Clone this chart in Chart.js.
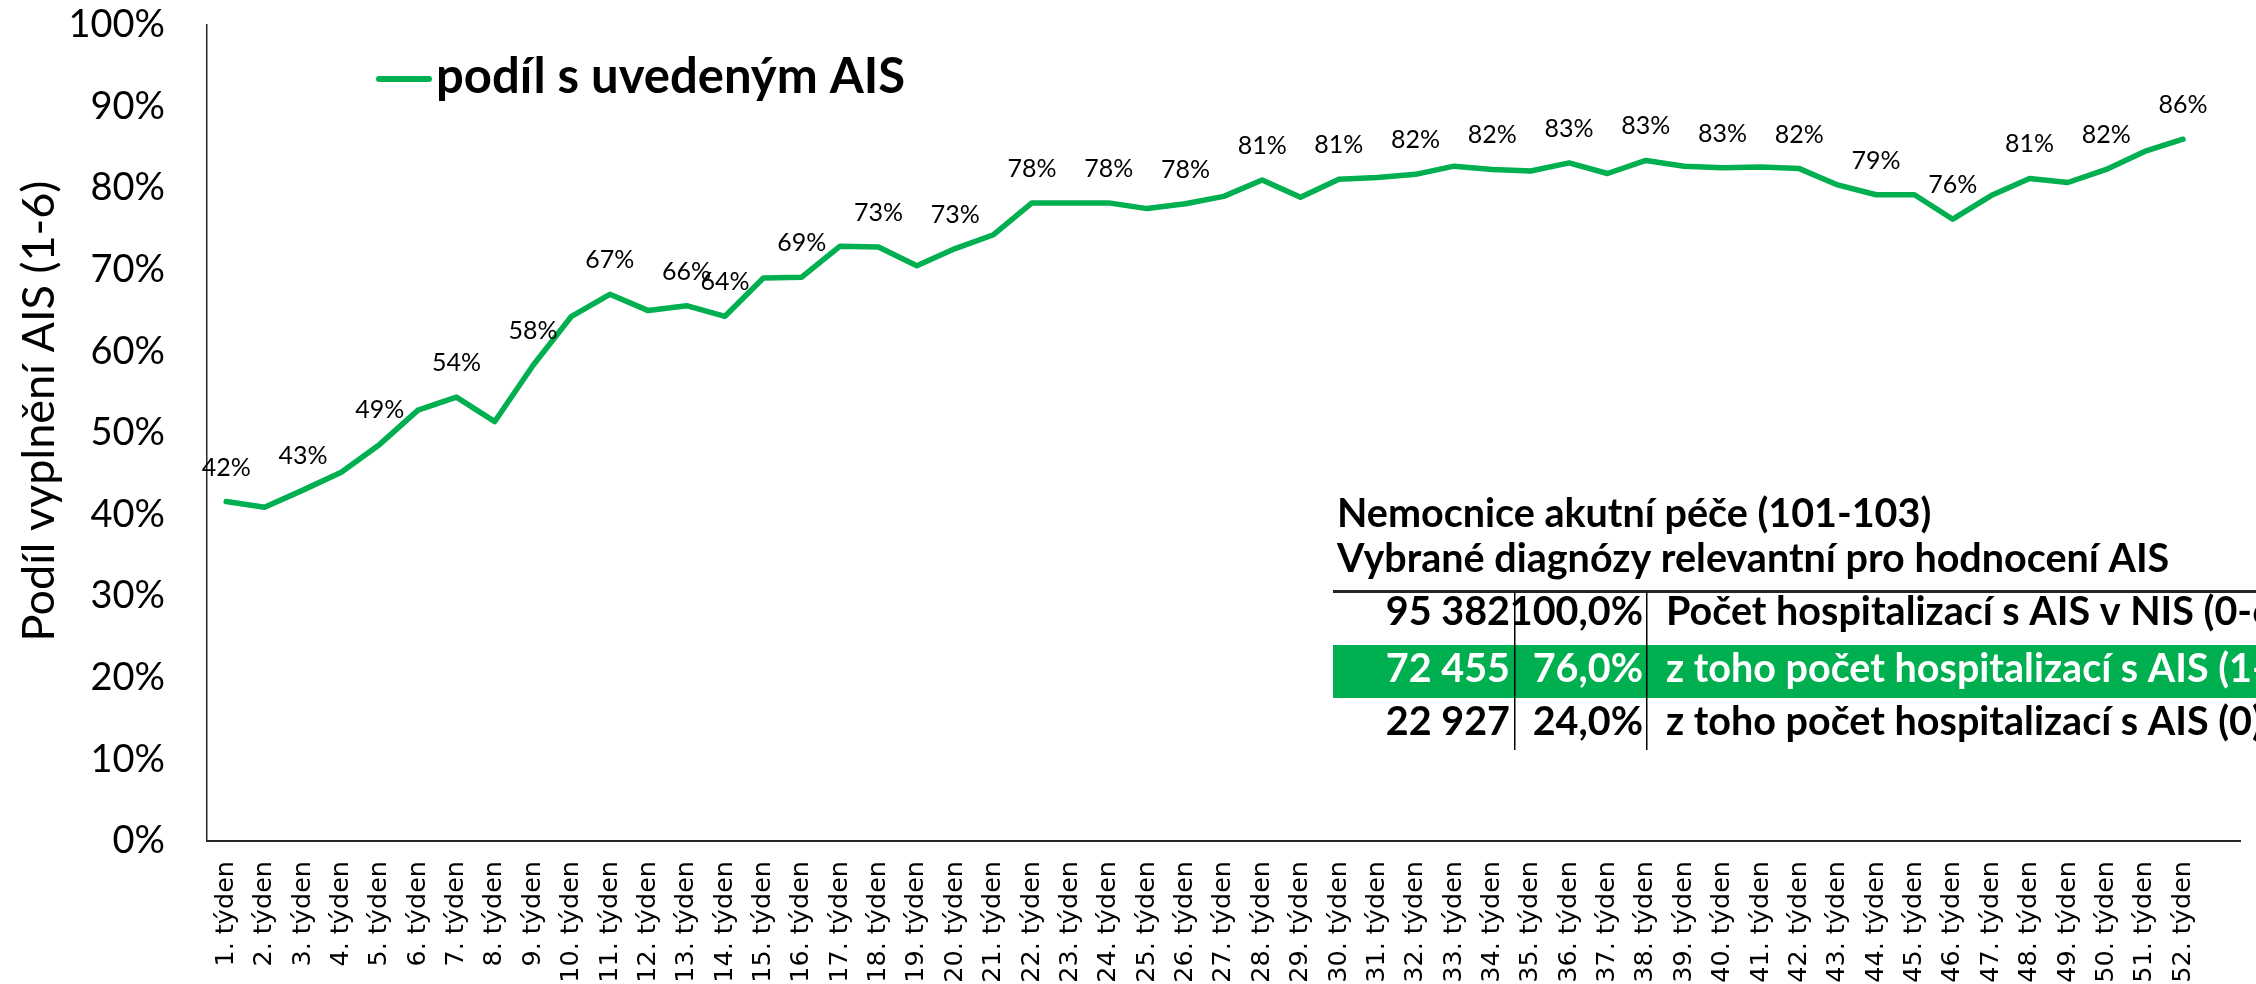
<!DOCTYPE html>
<html>
<head>
<meta charset="utf-8">
<script src="https://cdn.jsdelivr.net/npm/chart.js@4.4.1/dist/chart.umd.min.js"></script>
<style>
  html, body { margin: 0; padding: 0; background: #fff; overflow: hidden; width: 2256px; height: 984px; }
  #wrap { position: absolute; left: 0; top: 0; width: 2272px; height: 984px; }
</style>
</head>
<body>
<div id="wrap"><canvas id="chart" width="2272" height="984"></canvas></div>
<script>
// weekly share of hospitalisations with AIS filled in (1-6), in %
const weeks = [
  '1. týden', '2. týden', '3. týden', '4. týden', '5. týden', '6. týden', '7. týden', '8. týden',
  '9. týden', '10. týden', '11. týden', '12. týden', '13. týden', '14. týden', '15. týden', '16. týden',
  '17. týden', '18. týden', '19. týden', '20. týden', '21. týden', '22. týden', '23. týden', '24. týden',
  '25. týden', '26. týden', '27. týden', '28. týden', '29. týden', '30. týden', '31. týden', '32. týden',
  '33. týden', '34. týden', '35. týden', '36. týden', '37. týden', '38. týden', '39. týden', '40. týden',
  '41. týden', '42. týden', '43. týden', '44. týden', '45. týden', '46. týden', '47. týden', '48. týden',
  '49. týden', '50. týden', '51. týden', '52. týden'
]
const share = [
  41.6, 40.9, 43.0, 45.2, 48.6, 52.8, 54.4, 51.4, 58.3, 64.3,
  67.0, 65.0, 65.6, 64.3, 69.0, 69.1, 72.9, 72.8, 70.5, 72.6,
  74.3, 78.2, 78.2, 78.2, 77.5, 78.1, 79.0, 81.0, 78.9, 81.1,
  81.3, 81.7, 82.7, 82.3, 82.1, 83.1, 81.8, 83.4, 82.7, 82.5,
  82.6, 82.4, 80.4, 79.2, 79.2, 76.2, 79.1, 81.2, 80.7, 82.3,
  84.5, 86.0
]
// weeks (1-based) that carry a value label in the original
const labeledWeeks = [1, 3, 5, 7, 9, 11, 13, 14, 16, 18, 20, 22, 24, 26, 28, 30, 32, 34,
  36, 38, 40, 42, 44, 46, 48, 50, 52]

const seriesName = 'podíl s uvedeným AIS'
const yTitle = 'Podíl vyplnění AIS (1-6)'

// summary table
const tableTitle = ['Nemocnice akutní péče (101-103)', 'Vybrané diagnózy relevantní pro hodnocení AIS']
const tableCounts = [95382, 72455, 22927]
const tableShares = [100.0, 76.0, 24.0]
const tableRows = [
  'Počet hospitalizací s AIS v NIS (0-6)',
  'z toho počet hospitalizací s AIS (1-6)',
  'z toho počet hospitalizací s AIS (0)'
]

const green = '#00B050'

const fmtCount = n => String(n).replace(/\B(?=(\d{3})+(?!\d))/g, ' ')
const fmtShare = n => n.toFixed(1).replace('.', ',') + '%'

// value labels above the line
const valueLabels = {
  id: 'valueLabels',
  afterDatasetsDraw(chart) {
    const ctx = chart.ctx
    const meta = chart.getDatasetMeta(0)
    ctx.save()
    ctx.font = '25px Lato'
    ctx.fillStyle = '#000'
    ctx.textAlign = 'center'
    ctx.textBaseline = 'alphabetic'
    labeledWeeks.forEach(w => {
      const p = meta.data[w - 1]
      ctx.fillText(Math.round(share[w - 1]) + '%', p.x, p.y - 26)
    })
    ctx.restore()
  }
}

// axis title, legend and the table in the corner
const extras = {
  id: 'extras',
  afterDraw(chart) {
    const ctx = chart.ctx
    ctx.save()
    ctx.fillStyle = '#000'

    // y axis title
    ctx.save()
    ctx.translate(54, 411)
    ctx.rotate(-Math.PI / 2)
    ctx.font = '45px Lato'
    ctx.textAlign = 'center'
    ctx.textBaseline = 'alphabetic'
    ctx.fillText(yTitle, 0, 0)
    ctx.restore()

    // legend
    ctx.strokeStyle = green
    ctx.lineWidth = 6
    ctx.lineCap = 'round'
    ctx.beginPath()
    ctx.moveTo(379, 79)
    ctx.lineTo(429, 79)
    ctx.stroke()
    ctx.font = 'bold 49px Lato'
    ctx.textAlign = 'left'
    ctx.textBaseline = 'alphabetic'
    ctx.fillText(chart.data.datasets[0].label, 436, 93)

    // table
    ctx.font = 'bold 39.5px Lato'
    ctx.fillText(tableTitle[0], 1337, 527)
    ctx.fillText(tableTitle[1], 1337, 572)
    ctx.fillStyle = '#262626'
    ctx.fillRect(1333, 590, 1000, 3)
    ctx.fillStyle = green
    ctx.fillRect(1333, 645, 1000, 53)
    ctx.fillStyle = '#000'
    ctx.fillRect(1514, 592, 1.5, 158)
    ctx.fillRect(1646, 592, 1.5, 158)

    const baselines = [625, 682, 735]
    tableRows.forEach((txt, i) => {
      ctx.fillStyle = i === 1 ? '#fff' : '#000'
      ctx.textAlign = 'right'
      ctx.fillText(fmtCount(tableCounts[i]), 1510, baselines[i])
      ctx.fillText(fmtShare(tableShares[i]), 1643, baselines[i])
      ctx.textAlign = 'left'
      ctx.fillText(txt, 1666, baselines[i])
    })
    ctx.restore()
  }
}

const draw = () => {
  new Chart(document.getElementById('chart').getContext('2d'), {
    type: 'line',
    data: {
      // one blank slot on the right, the plot runs past the picture edge
      labels: weeks.concat(['']),
      datasets: [{
        label: seriesName,
        data: share,
        borderColor: green,
        backgroundColor: green,
        borderWidth: 5.5,
        borderJoinStyle: 'round',
        borderCapStyle: 'round',
        pointRadius: 0,
        tension: 0
      }]
    },
    options: {
      responsive: false,
      devicePixelRatio: 1,
      animation: false,
      layout: { padding: { left: 0, top: 25, right: 2, bottom: 0 } },
      plugins: {
        legend: { display: false },
        tooltip: { enabled: false }
      },
      scales: {
        x: {
          type: 'category',
          offset: true,
          grid: { display: false, drawTicks: false },
          border: { display: true, color: '#262626', width: 2 },
          ticks: {
            autoSkip: false,
            minRotation: 90,
            maxRotation: 90,
            padding: 20,
            color: '#000',
            font: { family: 'DejaVu Sans', size: 25.5 }
          },
          afterFit: s => { s.height = 143 }
        },
        y: {
          min: 0,
          max: 100,
          grid: { display: false, drawTicks: false },
          border: { display: true, color: '#262626', width: 1.5 },
          ticks: {
            stepSize: 10,
            padding: 42,
            color: '#000',
            font: { family: 'Lato', size: 38 },
            callback: v => v + '%'
          },
          afterFit: s => {
            s.width = 207
            // tick padding should not push the plot down
            s.paddingTop = 20
            s.paddingBottom = 20
          }
        }
      }
    },
    plugins: [valueLabels, extras]
  })
}

Promise.all([
  document.fonts.load('25px Lato'),
  document.fonts.load('bold 35px Lato'),
  document.fonts.load('24px "DejaVu Sans"')
]).then(draw, draw)
</script>
</body>
</html>
